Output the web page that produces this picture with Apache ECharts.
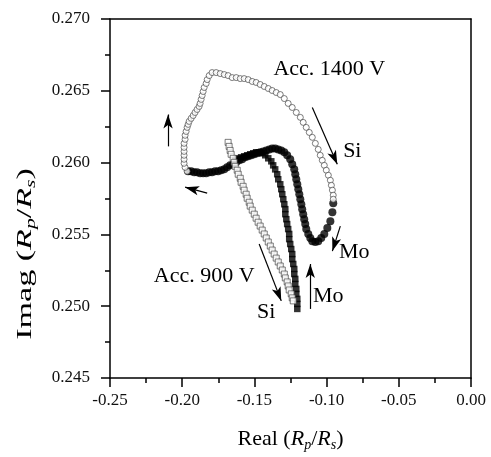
<!DOCTYPE html>
<html>
<head>
<meta charset="utf-8">
<script src="https://cdn.jsdelivr.net/npm/echarts@6/dist/echarts.min.js"></script>
<style>
  html, body { margin: 0; padding: 0; background: #fff; }
  #chart { width: 491px; height: 457px; }
</style>
</head>
<body>
<div id="chart"></div>
<script>
// Acc. 1400 V, Si (open circles)
const si1400X = [-0.1966,-0.1980,-0.1987,-0.1987,-0.1987,-0.1987,-0.1987,-0.1987,-0.1980,-0.1980,
  -0.1973,-0.1966,-0.1959,-0.1952,-0.1938,-0.1924,-0.1911,-0.1897,-0.1883,-0.1876,
  -0.1869,-0.1862,-0.1855,-0.1848,-0.1834,-0.1827,-0.1813,-0.1793,-0.1765,-0.1737,
  -0.1709,-0.1682,-0.1654,-0.1626,-0.1598,-0.1571,-0.1543,-0.1515,-0.1488,-0.1460,
  -0.1432,-0.1404,-0.1377,-0.1349,-0.1321,-0.1293,-0.1266,-0.1238,-0.1210,-0.1182,
  -0.1162,-0.1141,-0.1120,-0.1099,-0.1078,-0.1058,-0.1044,-0.1030,-0.1016,-0.1002,
  -0.0988,-0.0974,-0.0967,-0.0960,-0.0954,-0.0954];
const si1400Y = [0.25940,0.25967,0.25995,0.26023,0.26051,0.26078,0.26106,0.26134,0.26162,0.26190,
  0.26217,0.26245,0.26266,0.26287,0.26308,0.26328,0.26349,0.26370,0.26391,0.26412,
  0.26440,0.26467,0.26495,0.26523,0.26551,0.26578,0.26606,0.26627,0.26627,0.26620,
  0.26613,0.26606,0.26592,0.26592,0.26585,0.26585,0.26578,0.26565,0.26558,0.26544,
  0.26530,0.26516,0.26502,0.26488,0.26474,0.26446,0.26412,0.26384,0.26349,0.26315,
  0.26280,0.26245,0.26210,0.26176,0.26134,0.26092,0.26051,0.26016,0.25981,0.25947,
  0.25912,0.25877,0.25842,0.25808,0.25773,0.25745];

// Acc. 1400 V, Mo (filled circles)
const mo1400X = [-0.0954,-0.0960,-0.0974,-0.0995,-0.1016,-0.1037,-0.1058,-0.1078,-0.1099,-0.1113,
  -0.1127,-0.1141,-0.1148,-0.1155,-0.1162,-0.1169,-0.1175,-0.1182,-0.1189,-0.1196,
  -0.1203,-0.1210,-0.1217,-0.1224,-0.1238,-0.1252,-0.1273,-0.1293,-0.1314,-0.1335,
  -0.1356,-0.1377,-0.1397,-0.1418,-0.1439,-0.1460,-0.1481,-0.1501,-0.1522,-0.1543,
  -0.1564,-0.1585,-0.1605,-0.1626,-0.1647,-0.1668,-0.1689,-0.1709,-0.1730,-0.1751,
  -0.1772,-0.1793,-0.1813,-0.1834,-0.1855,-0.1876,-0.1897,-0.1917,-0.1938,-0.1959];
const mo1400Y = [0.25717,0.25655,0.25592,0.25544,0.25503,0.25475,0.25453,0.25447,0.25453,0.25475,
  0.25503,0.25537,0.25572,0.25606,0.25641,0.25676,0.25710,0.25745,0.25780,0.25815,
  0.25849,0.25884,0.25919,0.25953,0.25988,0.26023,0.26051,0.26072,0.26085,0.26092,
  0.26099,0.26099,0.26092,0.26085,0.26078,0.26072,0.26065,0.26058,0.26051,0.26044,
  0.26037,0.26023,0.26016,0.26002,0.25988,0.25981,0.25967,0.25953,0.25947,0.25940,
  0.25940,0.25933,0.25933,0.25926,0.25926,0.25926,0.25933,0.25933,0.25940,0.25940];

// Acc. 900 V, Si (open squares)
const si900X = [-0.1682,-0.1675,-0.1668,-0.1661,-0.1647,-0.1640,-0.1633,-0.1619,-0.1612,-0.1598,
  -0.1592,-0.1578,-0.1571,-0.1557,-0.1550,-0.1536,-0.1529,-0.1515,-0.1501,-0.1488,
  -0.1474,-0.1460,-0.1446,-0.1432,-0.1418,-0.1404,-0.1390,-0.1377,-0.1363,-0.1349,
  -0.1335,-0.1321,-0.1307,-0.1293,-0.1286,-0.1273,-0.1266,-0.1259,-0.1245,-0.1238,-0.1231];
const si900Y = [0.26141,0.26113,0.26085,0.26058,0.26030,0.26002,0.25974,0.25947,0.25919,0.25891,
  0.25863,0.25835,0.25808,0.25780,0.25752,0.25724,0.25697,0.25669,0.25641,0.25613,
  0.25585,0.25558,0.25530,0.25503,0.25475,0.25447,0.25419,0.25391,0.25363,0.25335,
  0.25308,0.25280,0.25252,0.25224,0.25197,0.25169,0.25141,0.25113,0.25086,0.25058,0.25037];

// Acc. 900 V, Mo (filled squares)
const mo900X = [-0.1203,-0.1203,-0.1203,-0.1210,-0.1210,-0.1217,-0.1217,-0.1224,-0.1224,-0.1231,
  -0.1238,-0.1238,-0.1245,-0.1252,-0.1259,-0.1259,-0.1266,-0.1273,-0.1279,-0.1286,
  -0.1286,-0.1293,-0.1300,-0.1307,-0.1314,-0.1321,-0.1335,-0.1342,-0.1356,-0.1370,
  -0.1383,-0.1404,-0.1425,-0.1446,-0.1467,-0.1488,-0.1508,-0.1529,-0.1550,-0.1571,
  -0.1592,-0.1612,-0.1633];
const mo900Y = [0.24981,0.25016,0.25051,0.25086,0.25120,0.25155,0.25190,0.25224,0.25259,0.25294,
  0.25328,0.25363,0.25398,0.25433,0.25467,0.25503,0.25537,0.25572,0.25606,0.25641,
  0.25676,0.25710,0.25745,0.25780,0.25815,0.25849,0.25884,0.25919,0.25953,0.25981,
  0.26009,0.26030,0.26051,0.26065,0.26072,0.26072,0.26065,0.26058,0.26051,0.26044,
  0.26037,0.26030,0.26023];

// annotation arrows: [x1, y1, x2, y2], head at (x2, y2)
const arrows = [
  [-0.1827, 0.25787, -0.1980, 0.25829],
  [-0.2098, 0.26113, -0.2098, 0.26335],
  [-0.1099, 0.26384, -0.0926, 0.25988],
  [-0.0905, 0.25558, -0.0960, 0.25384],
  [-0.1113, 0.24981, -0.1113, 0.25294],
  [-0.1467, 0.25433, -0.1314, 0.25037]
];
const notes = [
  ['Acc. 1400 V', -0.0981, 0.26648],
  ['Si', -0.0822, 0.26078],
  ['Mo', -0.0808, 0.25377],
  ['Acc. 900 V', -0.1848, 0.25210],
  ['Si', -0.1418, 0.24960],
  ['Mo', -0.0988, 0.25072]
];

const FONT = 'Liberation Serif';
const pairs = (xs, ys) => xs.map((x, i) => [x, ys[i]]);

const chart = echarts.init(document.getElementById('chart'));

const titleRich = {
  n: { fontFamily: FONT, fontSize: 22, color: '#000', lineHeight: 24, verticalAlign: 'top' },
  i: { fontFamily: FONT, fontSize: 22, fontStyle: 'italic', color: '#000', lineHeight: 24, verticalAlign: 'top' },
  s: { fontFamily: FONT, fontSize: 14, fontStyle: 'italic', color: '#000', lineHeight: 14, verticalAlign: 'bottom', padding: [16, 0, 0, 0] }
};
// same fragments for the free-standing y title (zrender uses fill)
const yRich = {
  n: { fontFamily: FONT, fontSize: 22, fill: '#000', lineHeight: 24, verticalAlign: 'top' },
  i: { fontFamily: FONT, fontSize: 22, fontStyle: 'italic', fill: '#000', lineHeight: 24, verticalAlign: 'top' },
  s: { fontFamily: FONT, fontSize: 14, fontStyle: 'italic', fill: '#000', lineHeight: 14, verticalAlign: 'bottom', padding: [16, 0, 0, 0] }
};

const tickStyle = { color: '#000', width: 1.5 };

const option = {
  animation: false,
  backgroundColor: '#fff',
  grid: { left: 110, right: 20, top: 19, bottom: 78 },
  graphic: [{
    type: 'text',
    x: 26, y: 254,
    rotation: Math.PI / 2,
    scaleX: 1.55,
    style: {
      text: '{n|Imag (}{i|R}{s|p}{n|/}{i|R}{s|s}{n|)}',
      rich: yRich,
      align: 'center', verticalAlign: 'middle'
    }
  }],
  xAxis: [{
    type: 'value', min: -0.25, max: 0, interval: 0.05,
    name: '{n|Real (}{i|R}{s|p}{n|/}{i|R}{s|s}{n|)}',
    nameLocation: 'middle', nameGap: 50,
    nameTextStyle: { rich: titleRich },
    axisLine: { onZero: false, lineStyle: tickStyle },
    axisTick: { length: 9, lineStyle: tickStyle },
    minorTick: { show: true, splitNumber: 2, length: 5, lineStyle: tickStyle },
    splitLine: { show: false },
    axisLabel: { fontFamily: FONT, fontSize: 17, color: '#111', margin: 14, formatter: v => v.toFixed(2) }
  }, {
    type: 'value', position: 'top', min: -0.25, max: 0,
    axisLine: { show: true, onZero: false, lineStyle: tickStyle },
    axisTick: { show: false }, minorTick: { show: false },
    axisLabel: { show: false }, splitLine: { show: false }
  }],
  yAxis: [{
    type: 'value', min: 0.245, max: 0.27, interval: 0.005,
    axisLine: { onZero: false, lineStyle: tickStyle },
    axisTick: { length: 9, lineStyle: tickStyle },
    minorTick: { show: true, splitNumber: 2, length: 5, lineStyle: tickStyle },
    splitLine: { show: false },
    axisLabel: { fontFamily: FONT, fontSize: 17, color: '#111', margin: 20, formatter: v => v.toFixed(3) }
  }, {
    type: 'value', position: 'right', min: 0.245, max: 0.27,
    axisLine: { show: true, onZero: false, lineStyle: tickStyle },
    axisTick: { show: false }, minorTick: { show: false },
    axisLabel: { show: false }, splitLine: { show: false }
  }],
  series: [
    {
      name: 'Mo 900', type: 'scatter', symbol: 'rect', symbolSize: 6.5,
      itemStyle: { color: '#000' }, data: pairs(mo900X, mo900Y)
    },
    {
      name: 'Mo 1400', type: 'scatter', symbol: 'circle', symbolSize: 8,
      itemStyle: { color: '#000' }, data: pairs(mo1400X, mo1400Y)
    },
    {
      name: 'Si 900', type: 'scatter', symbol: 'rect', symbolSize: 6,
      itemStyle: { color: '#fff', borderColor: '#333', borderWidth: 0.8 }, data: pairs(si900X, si900Y)
    },
    {
      name: 'Si 1400', type: 'scatter', symbol: 'circle', symbolSize: 6,
      itemStyle: { color: '#fff', borderColor: '#333', borderWidth: 0.8 }, data: pairs(si1400X, si1400Y),
      markLine: {
        silent: true,
        label: { show: false },
        lineStyle: { color: '#000', width: 1.2, type: 'solid' },
        data: arrows.map(a => [
          { coord: [a[0], a[1]], symbol: 'none' },
          { coord: [a[2], a[3]], symbol: 'arrow', symbolSize: [7, 14] }
        ])
      },
      markPoint: {
        silent: true,
        symbol: 'circle', symbolSize: 1,
        itemStyle: { color: 'rgba(0,0,0,0)' },
        label: { show: true, position: 'inside', fontFamily: FONT, fontSize: 22, color: '#000', formatter: '{b}' },
        data: notes.map(n => ({ name: n[0], coord: [n[1], n[2]] }))
      }
    }
  ]
};

chart.setOption(option);
</script>
</body>
</html>
